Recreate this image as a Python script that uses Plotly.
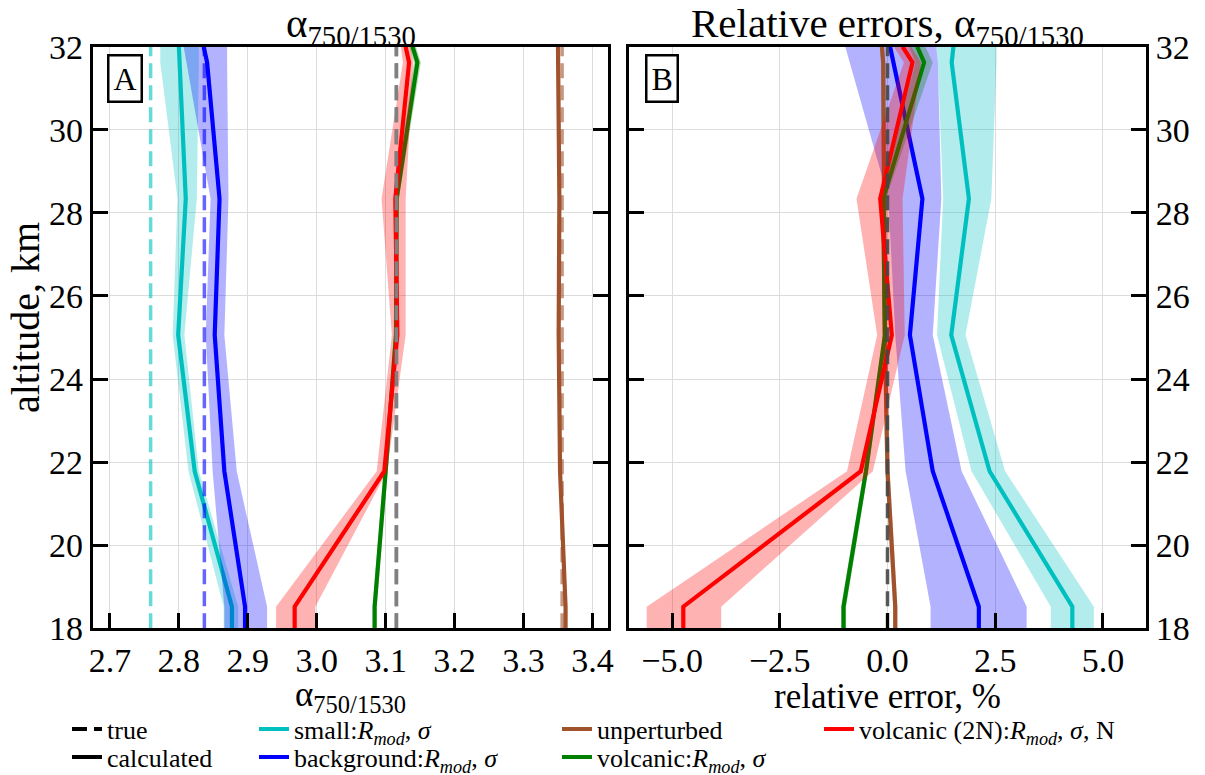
import plotly.graph_objects as go

W, H = 1205, 775
FONT = "Liberation Serif"

# ---------------- data ----------------
alt = [18.0, 18.52, 21.78, 25.06, 28.34, 31.62, 32.0]
alt_ticks = [18, 20, 22, 24, 26, 28, 30, 32]
alt_ticklabels = ["18", "20", "22", "24", "26", "28", "30", "32"]

a_ticks = [2.7, 2.8, 2.9, 3.0, 3.1, 3.2, 3.3, 3.4]
a_ticklabels = ["2.7", "2.8", "2.9", "3.0", "3.1", "3.2", "3.3", "3.4"]
b_ticks = [-5.0, -2.5, 0.0, 2.5, 5.0]
b_ticklabels = ["\u22125.0", "\u22122.5", "0.0", "2.5", "5.0"]

# Panel A: alpha_750/1530 (true values and calculated with spread)
small_true = 2.759
small_calc = [2.877, 2.877, 2.823, 2.799, 2.810, 2.800, 2.800]
small_lo = [2.865, 2.865, 2.814, 2.791, 2.798, 2.773, 2.773]
small_hi = [2.886, 2.886, 2.829, 2.808, 2.826, 2.829, 2.829]

backg_true = 2.837
backg_calc = [2.896, 2.896, 2.866, 2.852, 2.859, 2.841, 2.836]
backg_lo = [2.866, 2.866, 2.849, 2.839, 2.846, 2.812, 2.807]
backg_hi = [2.928, 2.928, 2.884, 2.866, 2.872, 2.870, 2.870]

unpert_true = 3.356
unpert_calc = [3.361, 3.361, 3.353, 3.351, 3.352, 3.351, 3.350]
unpert_lo = [3.359, 3.359, 3.351, 3.349, 3.350, 3.349, 3.348]
unpert_hi = [3.363, 3.363, 3.355, 3.353, 3.354, 3.353, 3.352]

volc_true = 3.1156
volc_calc = [3.084, 3.084, 3.100, 3.115, 3.116, 3.146, 3.139]
volc_lo = [3.081, 3.081, 3.097, 3.112, 3.113, 3.141, 3.134]
volc_hi = [3.087, 3.087, 3.103, 3.118, 3.119, 3.151, 3.144]

volc2n_true = 3.1156
volc2n_calc = [2.968, 2.968, 3.098, 3.117, 3.114, 3.134, 3.129]
volc2n_lo = [2.941, 2.941, 3.087, 3.109, 3.094, 3.125, 3.122]
volc2n_hi = [2.998, 2.998, 3.102, 3.129, 3.129, 3.140, 3.136]

# Panel B: relative errors, %
rel_true = 0.0
small_err = [4.29, 4.29, 2.37, 1.48, 1.89, 1.49, 1.53]
small_err_lo = [3.79, 3.79, 1.95, 1.15, 1.29, 1.17, 1.13]
small_err_hi = [4.79, 4.79, 2.73, 1.81, 2.41, 2.53, 2.53]

backg_err = [2.12, 2.12, 1.05, 0.52, 0.81, 0.14, 0.06]
backg_err_lo = [1.00, 1.00, 0.42, 0.18, 0.02, -0.86, -0.98]
backg_err_hi = [3.23, 3.23, 1.72, 1.05, 1.25, 1.17, 1.13]

unpert_err = [0.18, 0.18, 0.00, -0.06, -0.08, -0.10, -0.13]
unpert_err_lo = [0.13, 0.13, -0.05, -0.11, -0.13, -0.15, -0.18]
unpert_err_hi = [0.23, 0.23, 0.05, -0.01, -0.03, -0.05, -0.08]

volc_err = [-1.02, -1.02, -0.50, -0.06, -0.10, 0.85, 0.69]
volc_err_lo = [-1.08, -1.08, -0.55, -0.10, -0.16, 0.65, 0.50]
volc_err_hi = [-0.96, -0.96, -0.45, -0.02, -0.04, 1.05, 0.88]

volc2n_err = [-4.74, -4.74, -0.62, 0.10, -0.17, 0.58, 0.35]
volc2n_err_lo = [-5.59, -5.59, -0.94, -0.24, -0.72, 0.38, 0.15]
volc2n_err_hi = [-3.86, -3.86, -0.34, 0.40, 0.35, 0.78, 0.55]

legend_labels = [
    "true",
    "small:<i>R</i><sub><i>mod</i></sub>, <i>\u03c3</i>",
    "unperturbed",
    "volcanic (2N):<i>R</i><sub><i>mod</i></sub>, <i>\u03c3</i>, N",
    "calculated",
    "background:<i>R</i><sub><i>mod</i></sub>, <i>\u03c3</i>",
    "volcanic:<i>R</i><sub><i>mod</i></sub>, <i>\u03c3</i>",
]

# ---------------- styles ----------------
cases = [
    ("small", "#00bfbf", "rgba(0,191,191,0.3)", "rgba(0,191,191,0.6)",
     small_true, small_calc, small_lo, small_hi, small_err, small_err_lo, small_err_hi),
    ("background", "#0000ff", "rgba(0,0,255,0.3)", "rgba(0,0,255,0.6)",
     backg_true, backg_calc, backg_lo, backg_hi, backg_err, backg_err_lo, backg_err_hi),
    ("unperturbed", "#a0522d", "rgba(160,82,45,0.3)", "rgba(160,82,45,0.6)",
     unpert_true, unpert_calc, unpert_lo, unpert_hi, unpert_err, unpert_err_lo, unpert_err_hi),
    ("volcanic", "#008000", "rgba(0,128,0,0.3)", "#808080",
     volc_true, volc_calc, volc_lo, volc_hi, volc_err, volc_err_lo, volc_err_hi),
    ("volcanic2N", "#ff0000", "rgba(255,0,0,0.3)", "#808080",
     volc2n_true, volc2n_calc, volc2n_lo, volc2n_hi, volc2n_err, volc2n_err_lo, volc2n_err_hi),
]

LW = 4.2
DASH = "15px,7px"

fig = go.Figure()

def band(x_lo, x_hi, color, xa, ya):
    fig.add_trace(go.Scatter(
        x=list(x_lo) + list(x_hi)[::-1], y=alt + alt[::-1],
        fill="toself", fillcolor=color, mode="lines",
        line=dict(width=0, color="rgba(0,0,0,0)"),
        hoverinfo="skip", showlegend=False, xaxis=xa, yaxis=ya))

for (name, lc, bc, tc, tv, calc, lo, hi, err, elo, ehi) in cases:
    band(lo, hi, bc, "x", "y")
    fig.add_trace(go.Scatter(x=calc, y=alt, mode="lines",
                             line=dict(color=lc, width=LW),
                             showlegend=False, xaxis="x", yaxis="y"))
    fig.add_trace(go.Scatter(x=[tv, tv], y=[alt[0], alt[-1]], mode="lines",
                             line=dict(color=tc, width=3.5, dash=DASH),
                             showlegend=False, xaxis="x", yaxis="y"))
    band(elo, ehi, bc, "x2", "y2")
    fig.add_trace(go.Scatter(x=err, y=alt, mode="lines",
                             line=dict(color=lc, width=LW),
                             showlegend=False, xaxis="x2", yaxis="y2"))

fig.add_trace(go.Scatter(x=[rel_true, rel_true], y=[alt[0], alt[-1]], mode="lines",
                         line=dict(color="rgba(70,70,70,0.9)", width=3.5, dash=DASH),
                         showlegend=False, xaxis="x2", yaxis="y2"))

# ---------------- legend (one legend per entry for exact placement) -------
leg_colors = ["black", "#00bfbf", "#a0522d", "#ff0000", "black", "#0000ff", "#008000"]
leg_dash = [DASH, "solid", "solid", "solid", "solid", "solid", "solid"]
col_x = [67, 254, 557, 819]
row_y = [729, 757]
for i, (lab, c, d) in enumerate(zip(legend_labels, leg_colors, leg_dash)):
    lname = "legend" if i == 0 else f"legend{i+1}"
    fig.add_trace(go.Scatter(x=[None], y=[None], mode="lines", name=lab,
                             line=dict(color=c, width=4, dash=d),
                             showlegend=True, legend=lname))
    r = 0 if i < 4 else 1
    cidx = i if i < 4 else i - 4
    fig.update_layout({lname: dict(
        x=col_x[cidx] / W, y=1 - row_y[r] / H, xanchor="left", yanchor="middle",
        bgcolor="rgba(0,0,0,0)", borderwidth=0,
        font=dict(family=FONT, size=26, color="black"),
        itemwidth=30)})

# ---------------- axes ----------------
axA = [92.7, 608.3]
axB = [629.0, 1146.0]
yTop, yBot = 46.7, 628.3
ydom = [1 - yBot / H, 1 - yTop / H]

common_x = dict(ticks="inside", ticklen=15, tickwidth=2.5, tickcolor="black",
                showline=True, linewidth=3, linecolor="black", mirror=True,
                showgrid=True, gridcolor="#dcdcdc", gridwidth=1, zeroline=False,
                automargin=False,
                tickfont=dict(family=FONT, size=34, color="black"))
common_y = dict(ticks="inside", ticklen=15, tickwidth=2.5, tickcolor="black",
                showline=True, linewidth=3, linecolor="black", mirror="ticks",
                showgrid=True, gridcolor="#dcdcdc", gridwidth=1, zeroline=False,
                automargin=False,
                range=[18, 32], tickvals=alt_ticks, ticktext=alt_ticklabels,
                tickfont=dict(family=FONT, size=34, color="black"), domain=ydom)

fig.update_layout(
    width=W, height=H, margin=dict(l=0, r=0, t=0, b=0, autoexpand=False),
    paper_bgcolor="white", plot_bgcolor="white",
    xaxis=dict(domain=[axA[0] / W, axA[1] / W], range=[2.675, 3.423],
               tickvals=a_ticks, ticktext=a_ticklabels, anchor="y", **common_x),
    yaxis=dict(anchor="x", side="left", **common_y),
    xaxis2=dict(domain=[axB[0] / W, axB[1] / W], range=[-6.0, 6.0],
                tickvals=b_ticks, ticktext=b_ticklabels, anchor="y2", **common_x),
    yaxis2=dict(anchor="x2", side="right", **common_y),
)

# ---------------- texts ----------------
def ann(text, px, py, size, **kw):
    fig.add_annotation(text=text, x=px / W, y=1 - py / H, xref="paper", yref="paper",
                       xanchor="center", yanchor="middle",
                       showarrow=False, font=dict(family=FONT, size=size, color="black"),
                       **kw)

alpha = "\u03b1<sub>750/1530</sub>"
ann(alpha, 350.5, 26, 41)
ann("Relative errors, " + alpha, 887.5, 26, 41)
ann(alpha, 350.5, 696, 35)
ann("relative error, %", 887.5, 696, 35)
ann("altitude, km", 25, 318, 40, textangle=-90)
ann("A", 125, 78.7, 32, bordercolor="black", borderwidth=2.5, borderpad=4,
    bgcolor="white")
ann("B", 661.5, 78.7, 32, bordercolor="black", borderwidth=2.5, borderpad=4,
    bgcolor="white")

fig.write_html("out.html")
